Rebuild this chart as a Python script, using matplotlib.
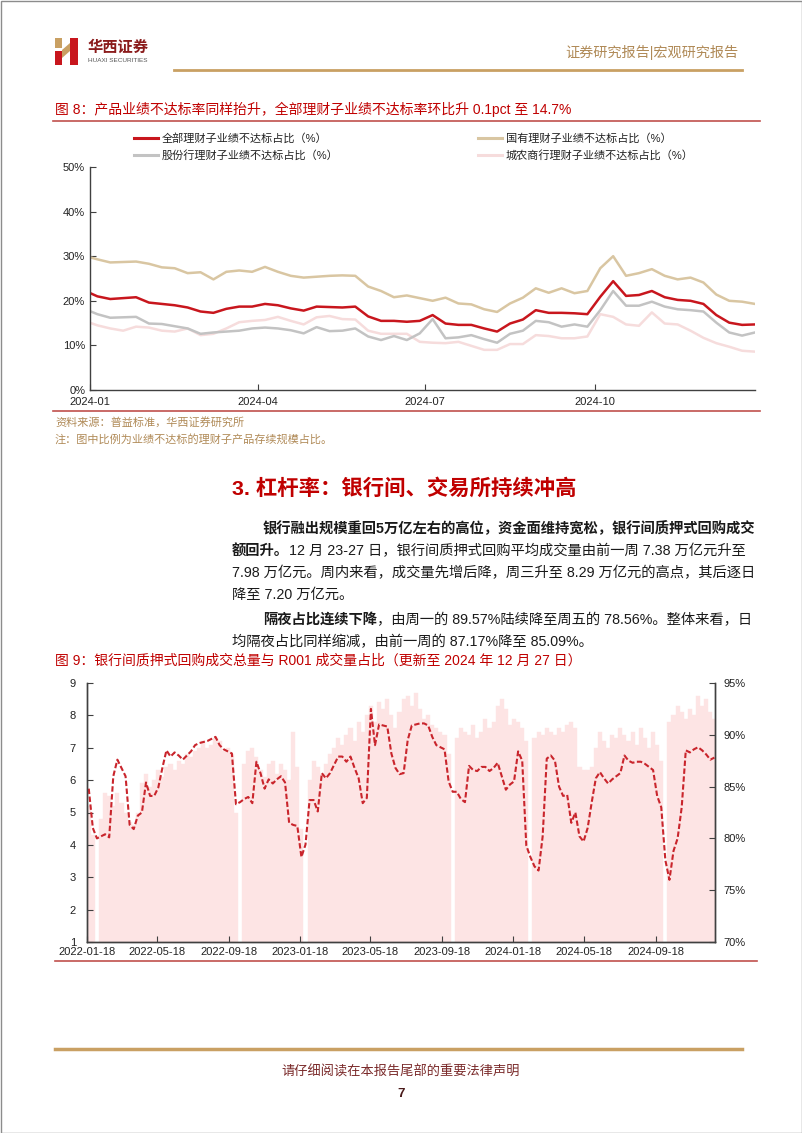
import numpy as np
import pandas as pd
import matplotlib
matplotlib.use('Agg')
import matplotlib.pyplot as plt
import matplotlib.dates as mdates
from matplotlib.patches import Rectangle, Polygon
from matplotlib.ticker import FuncFormatter

plt.rcParams['font.family'] = ['Liberation Sans', 'Noto Sans CJK SC', 'DejaVu Sans']
plt.rcParams['axes.unicode_minus'] = False

# 图8：理财子业绩不达标占比（周度，%）
weeks8 = pd.date_range('2023-12-29', '2024-12-27', freq='W-FRI')
all_rate = [22.3, 21.0, 20.4, 20.6, 20.8, 19.6, 19.3, 19.0, 18.5, 17.6,
            17.3, 18.2, 18.7, 18.7, 19.3, 19.0, 18.3, 17.8, 18.7, 18.6,
            18.5, 18.7, 16.5, 15.5, 15.5, 15.3, 15.5, 16.8, 14.9, 14.6,
            14.6, 13.8, 13.1, 14.9, 15.8, 17.9, 17.3, 17.3, 17.2, 17.0,
            20.9, 24.4, 21.1, 21.3, 22.2, 20.8, 20.2, 20.0, 19.3, 16.8,
            15.1, 14.6, 14.7]
gy_rate = [30.1, 29.3, 28.6, 28.7, 28.8, 28.3, 27.5, 27.3, 26.2, 26.4,
           24.8, 26.5, 26.8, 26.5, 27.6, 26.5, 25.6, 25.2, 25.4, 25.6,
           25.7, 25.6, 23.2, 22.2, 20.8, 21.2, 20.6, 20.0, 20.7, 19.4,
           19.2, 18.1, 17.5, 19.4, 20.7, 22.8, 21.8, 22.8, 21.7, 22.2,
           27.3, 30.0, 25.6, 26.2, 27.1, 25.6, 24.8, 25.2, 24.1, 21.4,
           20.0, 19.8, 19.3]
gf_rate = [18.2, 17.0, 16.2, 16.3, 16.4, 14.9, 14.8, 14.3, 13.8, 12.6,
           12.9, 13.1, 13.3, 13.8, 14.0, 13.8, 13.4, 12.7, 14.1, 13.2,
           13.3, 13.8, 12.0, 11.2, 12.1, 11.2, 12.7, 15.9, 11.6, 11.8,
           12.3, 11.4, 10.6, 12.6, 13.3, 15.5, 15.2, 14.2, 14.7, 14.2,
           17.9, 22.2, 18.9, 18.9, 19.8, 18.7, 18.1, 17.9, 17.6, 15.1,
           12.9, 12.2, 12.9]
cs_rate = [15.5, 14.5, 13.8, 13.3, 14.2, 14.0, 13.3, 13.1, 13.8, 12.3,
           12.6, 13.8, 15.2, 15.5, 15.7, 16.4, 15.5, 14.7, 16.3, 16.6,
           15.9, 15.8, 13.3, 12.6, 12.6, 12.6, 10.8, 10.6, 10.5, 10.8,
           9.9, 9.0, 9.0, 10.3, 10.3, 12.3, 12.1, 11.6, 11.6, 12.0,
           17.0, 16.4, 14.7, 14.4, 17.4, 14.9, 14.7, 13.3, 11.7, 10.5,
           9.7, 8.8, 8.6]
labels8 = ['全部理财子业绩不达标占比（%）', '国有理财子业绩不达标占比（%）',
           '股份行理财子业绩不达标占比（%）', '城农商行理财子业绩不达标占比（%）']

# 图9：银行间质押式回购成交量（万亿元）与 R001 占比（MA20，%），周度读数
weeks9 = pd.date_range('2022-01-21', '2024-12-27', freq='W-FRI')
nan = np.nan
repo_vol = [5.2, 4.3, nan, 4.8, 5.6, 5.5, 5.2, 5.6, 5.3, 5.0,
            4.7, 4.6, 5.0, 5.9, 6.2, 5.8, 6.0, 6.3, 6.1, 6.4,
            6.5, 6.3, 6.6, 6.5, 6.8, 6.7, 6.9, 7.0, 7.2, 7.0,
            7.1, 7.3, 7.2, 6.9, 7.0, 6.8, 5.0, nan, 6.5, 6.9,
            7.0, 6.7, 6.3, 6.1, 6.5, 6.6, 6.2, 6.5, 6.3, 6.0,
            7.5, 6.4, 4.5, nan, 6.0, 6.6, 6.4, 6.2, 6.5, 6.8,
            7.0, 7.3, 7.1, 7.4, 7.6, 7.2, 7.8, 7.5, 8.0, 8.3,
            7.8, 8.4, 8.2, 8.5, 8.0, 7.6, 8.1, 8.5, 8.6, 8.3,
            8.7, 8.2, 7.9, 8.0, 7.7, 7.6, 7.5, 7.4, 6.8, nan,
            7.3, 7.6, 7.5, 7.4, 7.7, 7.3, 7.5, 7.9, 7.6, 7.8,
            8.3, 8.5, 8.2, 7.7, 7.9, 7.8, 7.6, 7.2, nan, 7.3,
            7.5, 7.4, 7.6, 7.5, 7.4, 7.6, 7.5, 7.7, 7.8, 7.6,
            6.4, 6.3, 6.3, 6.4, 7.0, 7.5, 7.2, 7.0, 7.4, 7.3,
            7.6, 7.4, 7.2, 7.5, 7.1, 7.6, 7.3, 7.0, 7.5, 7.1,
            6.6, nan, 7.8, 8.0, 8.3, 8.1, 7.9, 8.2, 8.0, 8.6,
            8.3, 8.5, 8.1, 7.9]
r001_share = [84.8, 81.0, 80.0, 80.2, 80.4, 80.1, 86.0, 87.6, 86.8, 86.0,
              81.3, 80.9, 82.2, 82.5, 85.4, 84.1, 84.1, 84.9, 86.8, 88.5,
              87.9, 88.3, 88.0, 87.6, 88.0, 88.4, 89.0, 89.2, 89.3, 89.4,
              89.6, 89.8, 89.0, 88.6, 88.4, 88.2, 83.3, 83.5, 83.8, 84.0,
              83.4, 87.4, 86.3, 84.8, 85.7, 85.3, 85.7, 86.0, 85.4, 81.5,
              81.3, 81.2, 78.2, 79.4, 83.7, 83.7, 82.6, 86.3, 85.8, 86.3,
              87.1, 87.9, 87.9, 87.4, 87.9, 86.8, 85.8, 83.4, 83.9, 92.5,
              89.0, 91.0, 90.9, 90.8, 88.2, 86.8, 86.2, 86.3, 89.5, 90.9,
              91.0, 91.1, 91.1, 90.9, 89.8, 89.0, 88.8, 88.6, 85.5, 84.5,
              84.5, 83.8, 83.5, 87.0, 86.6, 86.5, 86.9, 86.9, 86.5, 86.8,
              87.3, 86.0, 84.7, 85.2, 85.5, 88.4, 87.5, 79.3, 78.2, 77.3,
              76.9, 80.2, 87.7, 88.0, 87.5, 85.0, 84.1, 84.2, 81.5, 82.5,
              80.2, 79.7, 81.0, 83.5, 85.8, 86.4, 85.8, 85.3, 85.7, 86.0,
              86.3, 88.0, 87.5, 87.3, 87.4, 87.4, 87.2, 86.9, 86.6, 84.1,
              83.0, 77.9, 76.0, 78.8, 80.0, 83.0, 88.5, 88.3, 88.6, 88.8,
              88.5, 88.1, 87.6, 87.8]
labels9 = ['银行间质押式回购成交量（万亿元）', 'R001成交量占比（平滑后，MA20，右轴）']
ticks9 = ['2022-01-18', '2022-05-18', '2022-09-18', '2023-01-18', '2023-05-18',
          '2023-09-18', '2024-01-18', '2024-05-18', '2024-09-18']

W, H = 802, 1133
RED = '#c00000'
GOLD = '#c9a063'
TAN_TXT = '#b08a57'

fig = plt.figure(figsize=(W / 100, H / 100), dpi=100)
page = fig.add_axes([0, 0, 1, 1])
page.set_xlim(0, W)
page.set_ylim(H, 0)
page.axis('off')


def box(l, t, r, b):
    return [l / W, 1 - b / H, (r - l) / W, (b - t) / H]


# 页面边框
page.add_patch(Rectangle((0.5, 0.5), W - 1, H - 1, fill=False, ec='#8c8c8c', lw=1))

# 页眉 logo
page.add_patch(Rectangle((70, 38), 8, 27, color='#c8161d', lw=0))
page.add_patch(Rectangle((55, 51), 7, 14, color='#c8161d', lw=0))
page.add_patch(Rectangle((55, 38), 7, 10, color='#c9a063', lw=0))
page.add_patch(Polygon([(62, 50), (70, 43), (70, 51), (62, 58)], color='#c9a063', lw=0))
page.text(88, 47, '华西证券', fontsize=11, fontweight='bold', color='#8b1c1c', va='center',
          family=['Noto Sans CJK SC'])
page.text(88, 61, 'HUAXI SECURITIES', fontsize=4.6, color='#555555', va='center')
page.text(738, 53, '证券研究报告|宏观研究报告', fontsize=10.2, color=TAN_TXT, va='center', ha='right')
page.plot([174, 742], [70, 70], color=GOLD, lw=2)

# 图8 标题
page.text(55, 109, '图 8：产品业绩不达标率同样抬升，全部理财子业绩不达标率环比升 0.1pct 至 14.7%',
          fontsize=10.0, color=RED, va='center')
page.plot([53, 760], [121, 121], color='#c0504d', lw=1.2)

# 图8 图例
colors8 = ['#c8161d', '#d9c6a2', '#c3c3c3', '#f6dcdc']
leg_pos = [(134, 138), (478, 138), (134, 155), (478, 155)]
for (lx, ly), lab, c in zip(leg_pos, labels8, colors8):
    page.plot([lx, lx + 24], [ly, ly], color=c, lw=2.2)
    page.text(lx + 28, ly, lab, fontsize=8, color='#222222', va='center')

ax1 = fig.add_axes(box(90, 167, 755, 390))
ax1.plot(weeks8, cs_rate, color=colors8[3], lw=1.8)
ax1.plot(weeks8, gf_rate, color=colors8[2], lw=1.8)
ax1.plot(weeks8, gy_rate, color=colors8[1], lw=1.8)
ax1.plot(weeks8, all_rate, color=colors8[0], lw=1.8)
ax1.set_xlim(pd.Timestamp('2024-01-01'), pd.Timestamp('2024-12-27'))
ax1.set_ylim(0, 50)
ax1.set_yticks(range(0, 51, 10))
ax1.yaxis.set_major_formatter(FuncFormatter(lambda v, p: '%d%%' % v))
ax1.set_xticks(pd.to_datetime(['2024-01-01', '2024-04-01', '2024-07-01', '2024-10-01']))
ax1.xaxis.set_major_formatter(mdates.DateFormatter('%Y-%m'))
for s in ['top', 'right']:
    ax1.spines[s].set_visible(False)
for s in ['left', 'bottom']:
    ax1.spines[s].set_color('#404040')
    ax1.spines[s].set_linewidth(1)
ax1.tick_params(direction='in', length=4, width=0.8, color='#404040', labelsize=8,
                labelcolor='#222222')
ax1.tick_params(axis='x', pad=5)
ax1.patch.set_alpha(0)

page.plot([53, 760], [411, 411], color='#c0504d', lw=1.2)
page.text(55, 422, '资料来源：普益标准，华西证券研究所', fontsize=8, color=TAN_TXT, va='center')
page.text(55, 439, '注：图中比例为业绩不达标的理财子产品存续规模占比。', fontsize=8, color=TAN_TXT, va='center')

# 正文
page.text(232, 488, '3. 杠杆率：银行间、交易所持续冲高', fontsize=15.4, fontweight='bold',
          color=RED, va='center')

renderer = fig.canvas.get_renderer()
BODY = 10.3


def mixed(x, y, parts):
    for s, bold in parts:
        t = page.text(x, y, s, fontsize=BODY, color='#1a1a1a', va='center',
                      fontweight='bold' if bold else 'normal')
        x = t.get_window_extent(renderer=renderer).x1


mixed(263, 529, [('银行融出规模重回5万亿左右的高位，资金面维持宽松，银行间质押式回购成交', True)])
mixed(232, 551, [('额回升。', True), ('12 月 23-27 日，银行间质押式回购平均成交量由前一周 7.38 万亿元升至', False)])
mixed(232, 573, [('7.98 万亿元。周内来看，成交量先增后降，周三升至 8.29 万亿元的高点，其后逐日', False)])
mixed(232, 595, [('降至 7.20 万亿元。', False)])
mixed(263, 620, [('隔夜占比连续下降', True), ('，由周一的 89.57%陆续降至周五的 78.56%。整体来看，日', False)])
mixed(232, 642, [('均隔夜占比同样缩减，由前一周的 87.17%降至 85.09%。', False)])

# 图9 标题
page.text(55, 661, '图 9：银行间质押式回购成交总量与 R001 成交量占比（更新至 2024 年 12 月 27 日）',
          fontsize=10.0, color=RED, va='center')

ax2 = fig.add_axes(box(87, 683, 715, 942))
ax2.bar(weeks9, repo_vol, width=7, color='#fde4e4', edgecolor='#fde4e4', linewidth=0.3)
ax2.set_ylim(1, 9)
ax2.set_yticks(range(1, 10))
ax2.set_xlim(pd.Timestamp('2022-01-18'), pd.Timestamp('2024-12-28'))
ax2.set_xticks(pd.to_datetime(ticks9))
ax2.set_xticklabels(ticks9)
ax3 = ax2.twinx()
ax3.plot(weeks9, r001_share, color='#c9252c', lw=1.5, ls=(0, (2.6, 1.2)))
ax3.set_ylim(70, 95)
ax3.set_yticks(range(70, 96, 5))
ax3.yaxis.set_major_formatter(FuncFormatter(lambda v, p: '%d%%' % v))
for a in (ax2, ax3):
    a.spines['top'].set_visible(False)
    for s in ['left', 'right', 'bottom']:
        a.spines[s].set_color('#404040')
        a.spines[s].set_linewidth(1)
    a.tick_params(direction='in', length=4, width=0.8, color='#404040', labelsize=8,
                  labelcolor='#222222')
ax2.tick_params(axis='y', pad=8)
ax3.tick_params(axis='y', pad=6)

# 图9 图例
page.add_patch(Rectangle((153, 684), 76, 12, color='#fde4e4', lw=0))
page.text(236, 690, labels9[0], fontsize=8, color='#222222', va='center')
page.plot([398, 428], [690, 690], color='#c9252c', lw=1.5, ls=(0, (2.6, 1.2)))
page.text(432, 690, labels9[1], fontsize=8, color='#222222', va='center')

page.plot([55, 757], [961, 961], color='#c0504d', lw=1.2)

# 页脚
page.plot([55, 742], [1049, 1049], color=GOLD, lw=2.5)
page.text(401, 1072, '请仔细阅读在本报告尾部的重要法律声明', fontsize=9.5, color='#7a2a2a',
          ha='center', va='center')
page.text(401, 1094, '7', fontsize=9.5, fontweight='bold', color='#4a1a1a', ha='center', va='center')

fig.savefig('out.png', dpi=100)
